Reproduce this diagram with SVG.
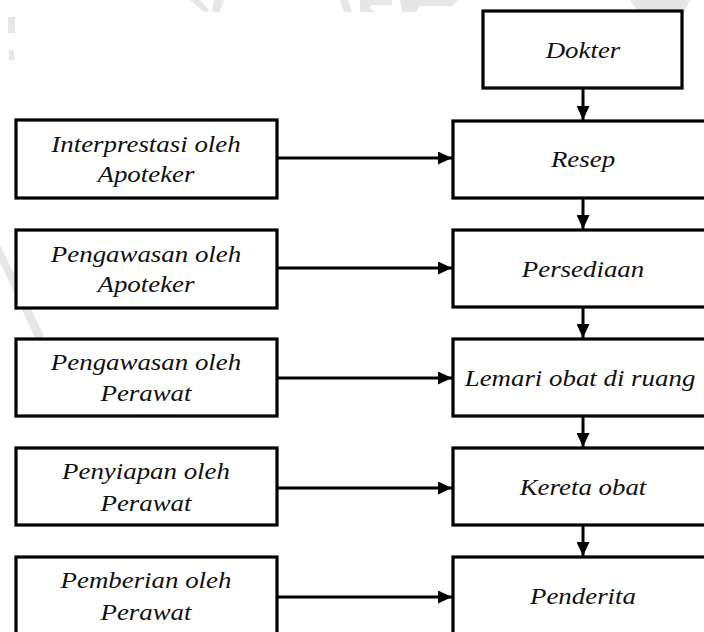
<svg xmlns="http://www.w3.org/2000/svg" width="704" height="632" viewBox="0 0 704 632">
  <style>
    .box { fill: #ffffff; stroke: #000000; stroke-width: 3.2; }
    .wire { stroke: #000000; stroke-width: 3; fill: none; marker-end: url(#head); }
    .wm { fill: #e6e6e6; }
  </style>
  <defs>
    <marker id="head" viewBox="0 0 14 13" refX="14" refY="6.5" markerWidth="14" markerHeight="13" markerUnits="userSpaceOnUse" orient="auto">
      <path d="M0,0 L14,6.5 L0,13 Z" fill="#000000"/>
    </marker>
  </defs>

  <rect width="704" height="632" fill="#ffffff"/>

  <!-- faint background emblem -->
  <g id="watermark">
    <polygon class="wm" points="190,0 200,0 210,11 204,12"/>
    <polygon class="wm" points="214,0 224,0 220,12 212,12"/>
    <polygon class="wm" points="340,0 348,0 352,12 344,12"/>
    <path class="wm" d="M360,0 H392 V5 H372 Q366,8 376,12 H360 Z"/>
    <polygon class="wm" points="400,0 458,0 452,6 420,6 416,12 402,12"/>
    <polygon class="wm" points="630,0 690,0 676,28 640,14"/>
    <rect class="wm" x="8" y="17" width="7" height="16"/>
    <rect class="wm" x="9" y="50" width="5" height="10"/>
    <polygon class="wm" points="0,245 0,262 36,340 44,336"/>
  </g>

  <!-- connectors -->
  <g id="connectors">
    <line class="wire" x1="583" y1="89" x2="583" y2="120"/>
    <line class="wire" x1="583" y1="198" x2="583" y2="229"/>
    <line class="wire" x1="583" y1="307" x2="583" y2="338"/>
    <line class="wire" x1="583" y1="416" x2="583" y2="447"/>
    <line class="wire" x1="583" y1="525" x2="583" y2="556"/>

    <line class="wire" x1="277" y1="158" x2="452" y2="158"/>
    <line class="wire" x1="277" y1="268" x2="452" y2="268"/>
    <line class="wire" x1="277" y1="378" x2="452" y2="378"/>
    <line class="wire" x1="277" y1="488" x2="452" y2="488"/>
    <line class="wire" x1="277" y1="597" x2="452" y2="597"/>
  </g>

  <!-- main chain (labels set in a slightly widened Times-style italic) -->
  <g id="dokter">
    <rect class="box" x="483" y="11" width="199" height="77"/>
    <text transform="translate(583,58) scale(1.12,1)" x="0" y="0" font-family="Liberation Serif" font-style="italic" font-size="24" text-anchor="middle" fill="#111111">Dokter</text>
  </g>
  <g id="resep">
    <rect class="box" x="453" y="121" width="270" height="77"/>
    <text transform="translate(583,167) scale(1.12,1)" x="0" y="0" font-family="Liberation Serif" font-style="italic" font-size="24" text-anchor="middle" fill="#111111">Resep</text>
  </g>
  <g id="persediaan">
    <rect class="box" x="453" y="230" width="270" height="77"/>
    <text transform="translate(583,277) scale(1.12,1)" x="0" y="0" font-family="Liberation Serif" font-style="italic" font-size="24" text-anchor="middle" fill="#111111">Persediaan</text>
  </g>
  <g id="lemari">
    <rect class="box" x="453" y="339" width="270" height="77"/>
    <text transform="translate(580,386) scale(1.12,1)" x="0" y="0" font-family="Liberation Serif" font-style="italic" font-size="24" text-anchor="middle" fill="#111111">Lemari obat di ruang</text>
  </g>
  <g id="kereta">
    <rect class="box" x="453" y="448" width="270" height="77"/>
    <text transform="translate(583,495) scale(1.12,1)" x="0" y="0" font-family="Liberation Serif" font-style="italic" font-size="24" text-anchor="middle" fill="#111111">Kereta obat</text>
  </g>
  <g id="penderita">
    <rect class="box" x="453" y="557" width="270" height="90"/>
    <text transform="translate(583,604) scale(1.12,1)" x="0" y="0" font-family="Liberation Serif" font-style="italic" font-size="24" text-anchor="middle" fill="#111111">Penderita</text>
  </g>

  <!-- actors on the left -->
  <g id="interpretasi">
    <rect class="box" x="16" y="120" width="261" height="78"/>
    <text transform="translate(146,152) scale(1.12,1)" x="0" y="0" font-family="Liberation Serif" font-style="italic" font-size="24" text-anchor="middle" fill="#111111">Interprestasi oleh</text>
    <text transform="translate(146,182) scale(1.12,1)" x="0" y="0" font-family="Liberation Serif" font-style="italic" font-size="24" text-anchor="middle" fill="#111111">Apoteker</text>
  </g>
  <g id="pengawasan-apoteker">
    <rect class="box" x="16" y="230" width="261" height="78"/>
    <text transform="translate(146,262) scale(1.12,1)" x="0" y="0" font-family="Liberation Serif" font-style="italic" font-size="24" text-anchor="middle" fill="#111111">Pengawasan oleh</text>
    <text transform="translate(146,292) scale(1.12,1)" x="0" y="0" font-family="Liberation Serif" font-style="italic" font-size="24" text-anchor="middle" fill="#111111">Apoteker</text>
  </g>
  <g id="pengawasan-perawat">
    <rect class="box" x="16" y="339" width="261" height="77"/>
    <text transform="translate(146,370) scale(1.12,1)" x="0" y="0" font-family="Liberation Serif" font-style="italic" font-size="24" text-anchor="middle" fill="#111111">Pengawasan oleh</text>
    <text transform="translate(146,401) scale(1.12,1)" x="0" y="0" font-family="Liberation Serif" font-style="italic" font-size="24" text-anchor="middle" fill="#111111">Perawat</text>
  </g>
  <g id="penyiapan">
    <rect class="box" x="16" y="448" width="261" height="77"/>
    <text transform="translate(146,479) scale(1.12,1)" x="0" y="0" font-family="Liberation Serif" font-style="italic" font-size="24" text-anchor="middle" fill="#111111">Penyiapan oleh</text>
    <text transform="translate(146,511) scale(1.12,1)" x="0" y="0" font-family="Liberation Serif" font-style="italic" font-size="24" text-anchor="middle" fill="#111111">Perawat</text>
  </g>
  <g id="pemberian">
    <rect class="box" x="16" y="557" width="261" height="90"/>
    <text transform="translate(146,588) scale(1.12,1)" x="0" y="0" font-family="Liberation Serif" font-style="italic" font-size="24" text-anchor="middle" fill="#111111">Pemberian oleh</text>
    <text transform="translate(146,620) scale(1.12,1)" x="0" y="0" font-family="Liberation Serif" font-style="italic" font-size="24" text-anchor="middle" fill="#111111">Perawat</text>
  </g>
</svg>
